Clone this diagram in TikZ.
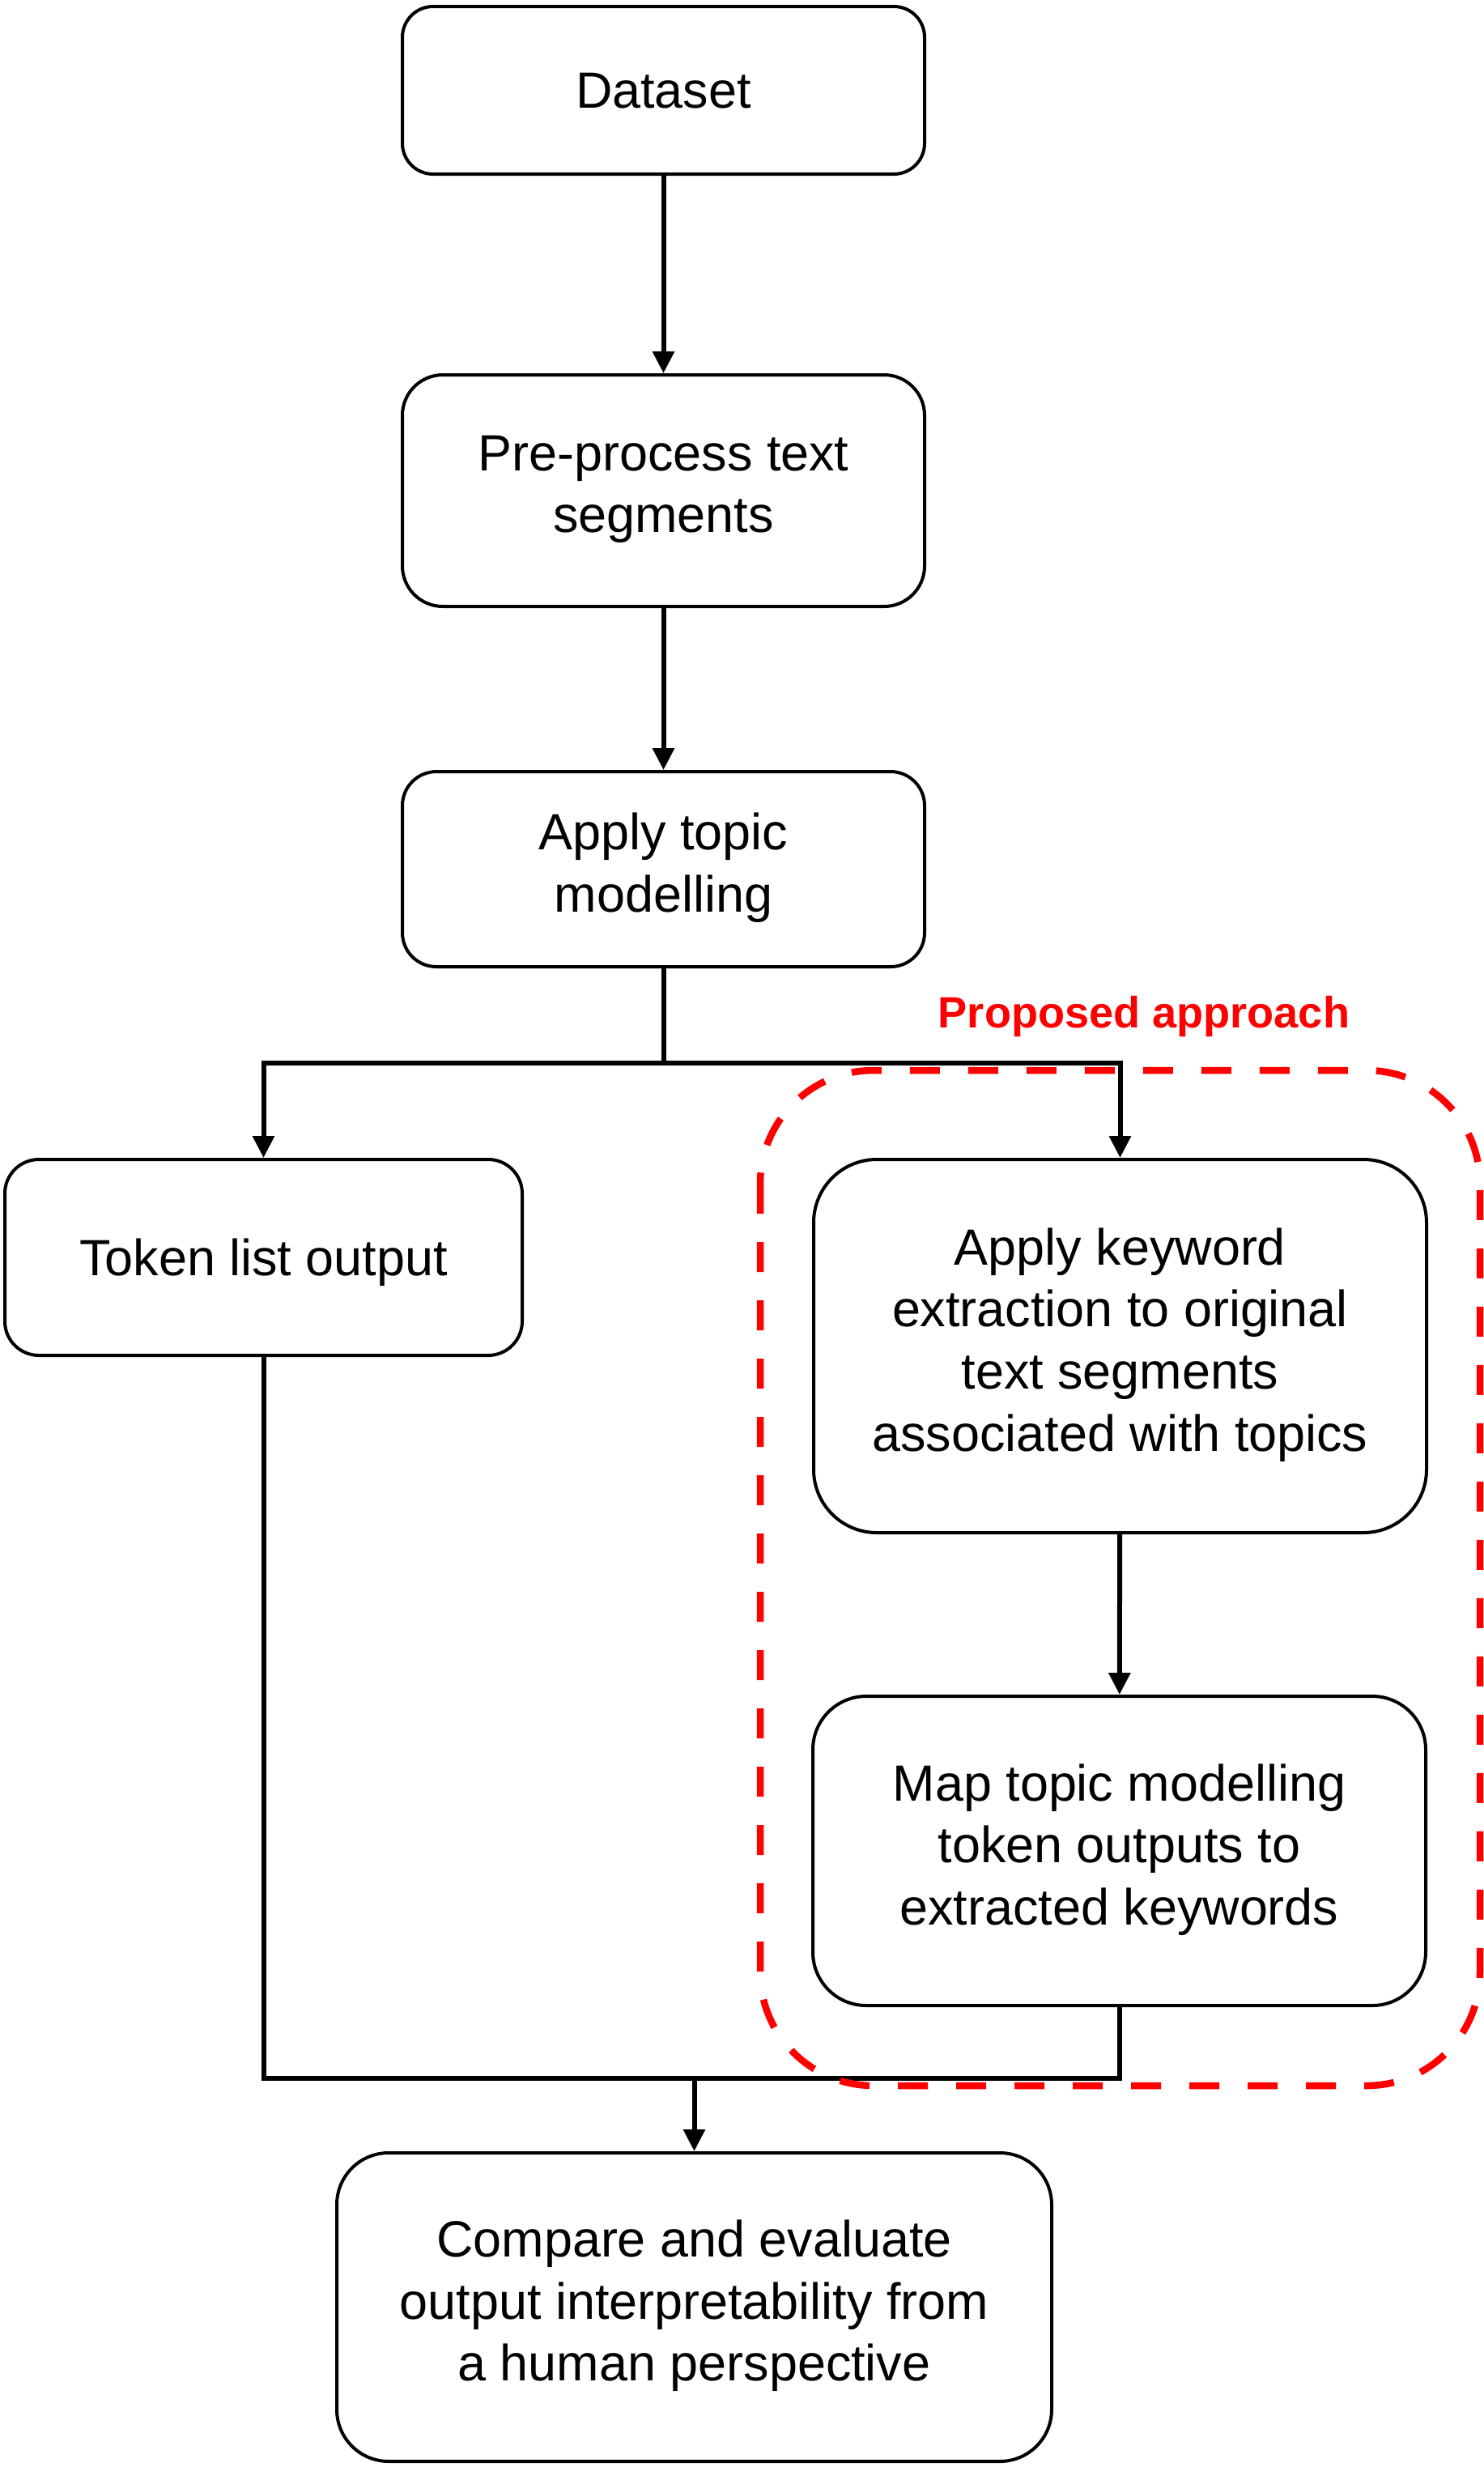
\documentclass[tikz,border=0pt]{standalone}
\usepackage{fontspec}
\setmainfont{Liberation Sans}
\usepackage{tikz}
\usetikzlibrary{calc}
\usetikzlibrary{arrows.meta}
\newcommand{\linestrut}{\rule[-4.6pt]{0pt}{21.8pt}}
\tikzstyle{every node}=[font=\fontsize{17.9}{21.8}\selectfont]
\tikzstyle{box}=[draw, fill=white, line width=0.04cm, align=center, inner sep=0pt,
    execute at begin node=\linestrut, execute at end node=\linestrut]
\tikzstyle{link}=[line width=0.06cm]

\begin{document}
\begin{tikzpicture}[>={Triangle[length=0.27cm, width=0.26cm]}]
    \useasboundingbox (0, 0) rectangle (18.33, -30.47);

    \node [box, minimum width=6.45cm, minimum height=2.07cm, rounded corners=0.38cm] (D) at (8.195, -1.115) {Dataset};
    \node [box, minimum width=6.45cm, minimum height=2.86cm, rounded corners=0.5cm] (P) at (8.195, -6.06) {Pre-process text\\segments};
    \node [box, minimum width=6.45cm, minimum height=2.41cm, rounded corners=0.42cm] (T) at (8.195, -10.735) {Apply topic\\modelling};
    \node [box, minimum width=6.39cm, minimum height=2.42cm, rounded corners=0.42cm] (L) at (3.255, -15.53) {Token list output};
    \node [box, minimum width=7.57cm, minimum height=4.61cm, rounded corners=0.78cm] (K) at (13.835, -16.625) {Apply keyword\\extraction to original\\text segments\\associated with topics};
    \node [box, minimum width=7.57cm, minimum height=3.82cm, rounded corners=0.66cm] (M) at (13.825, -22.86) {Map topic modelling\\token outputs to\\extracted keywords};
    \node [box, minimum width=8.83cm, minimum height=3.81cm, rounded corners=0.64cm] (C) at (8.575, -28.495) {Compare and evaluate\\output interpretability from\\a human perspective};

    \coordinate (S) at (8.195, -13.13);
    \coordinate (J) at (8.575, -25.67);

    \draw [link, ->] (D) -- (P);
    \draw [link, ->] (P) -- (T);
    \draw [link] (T) -- (S);
    \draw [link, ->] (S) -| (L);
    \draw [link, ->] (S) -| (K);
    \draw [link, ->] (K) -- (M);
    \draw [link] (L) |- (J);
    \draw [link] (M) |- (J);
    \draw [link, ->] (J) -- (C);

    \draw [red, line width=0.085cm, dash pattern=on 0.37cm off 0.35cm, rounded corners=1.4cm] (9.39, -13.22) rectangle (18.28, -25.76);
    \node [red, anchor=base, font=\fontsize{15.4}{18}\selectfont\bfseries] (N) at (14.13, -12.69) {Proposed approach};
\end{tikzpicture}
\end{document}
